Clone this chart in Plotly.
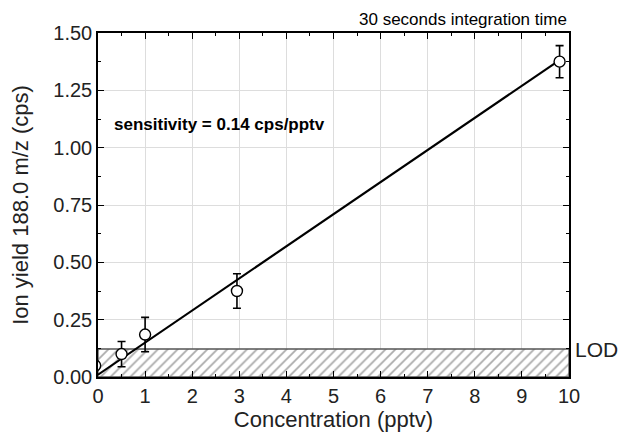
import plotly.graph_objects as go

conc = [0.5, 1.0, 2.95, 9.8]
ion_yield = [0.10, 0.185, 0.375, 1.375]
err = [0.055, 0.075, 0.075, 0.07]
edge_x = [-0.06]
edge_y = [0.05]
fit_x = [0.0, 9.8]
fit_y = [0.01, 1.382]
lod = 0.122
x_ticks = list(range(0, 11))
y_ticks = [0.0, 0.25, 0.5, 0.75, 1.0, 1.25, 1.5]

font = "Liberation Sans, Arial, sans-serif"
fig = go.Figure()

fig.add_trace(go.Scatter(
    x=[0, 10, 10, 0, 0], y=[0, 0, lod, lod, 0], mode="lines", fill="toself",
    fillcolor="white",
    fillpattern=dict(shape="/", fgcolor="#555555", bgcolor="white", size=7, solidity=0.25),
    line=dict(color="#555555", width=1.3), hoverinfo="skip", showlegend=False))

fig.add_trace(go.Scatter(x=fit_x, y=fit_y, mode="lines",
                         line=dict(color="black", width=2.2), showlegend=False))

fig.add_trace(go.Scatter(
    x=edge_x + conc, y=edge_y + ion_yield, mode="markers",
    marker=dict(symbol="circle", size=11, color="white", line=dict(color="black", width=1.4)),
    error_y=dict(type="data", array=[0] + err, color="black", thickness=1.6, width=4),
    showlegend=False))

axis_common = dict(showline=True, linecolor="black", linewidth=1.5, mirror="allticks",
                   ticks="inside", ticklen=6, tickwidth=1.2, tickcolor="black",
                   showgrid=True, gridcolor="#dddddd", gridwidth=1, zeroline=False,
                   automargin=False,
                   tickfont=dict(family=font, size=20, color="#222222"))

fig.update_xaxes(range=[0, 10], tickvals=x_ticks, ticktext=[str(v) for v in x_ticks],
                 minor=dict(ticks="inside", ticklen=3, tickcolor="black", dtick=0.5, showgrid=False),
                 title=dict(text="Concentration (pptv)", font=dict(family=font, size=22, color="#222222"),
                            standoff=5),
                 **axis_common)
fig.update_yaxes(range=[0, 1.5], tickvals=y_ticks, ticktext=[f"{v:.2f}" for v in y_ticks],
                 minor=dict(ticks="inside", ticklen=3, tickcolor="black", dtick=0.125, showgrid=False),
                 title=dict(text="Ion yield 188.0 m/z (cps)", font=dict(family=font, size=22, color="#222222"),
                            standoff=20),
                 **axis_common)

fig.add_annotation(x=0.3, y=1.1, xref="x", yref="y", text="<b>sensitivity = 0.14 cps/pptv</b>",
                   showarrow=False, xanchor="left", yanchor="middle",
                   font=dict(family=font, size=17, color="black"))
fig.add_annotation(x=1.0, y=1.0, xref="paper", yref="paper", text="30 seconds integration time",
                   showarrow=False, xanchor="right", yanchor="bottom", yshift=2,
                   font=dict(family=font, size=17, color="black"))
fig.add_annotation(x=1.0, y=lod, xref="paper", yref="y", text="LOD",
                   showarrow=False, xanchor="left", yanchor="middle", xshift=4,
                   font=dict(family=font, size=21, color="#222222"))

fig.update_layout(width=619, height=424, margin=dict(l=90, r=58, t=25, b=55),
                  plot_bgcolor="white", paper_bgcolor="white", showlegend=False)

fig.write_html("out.html")
